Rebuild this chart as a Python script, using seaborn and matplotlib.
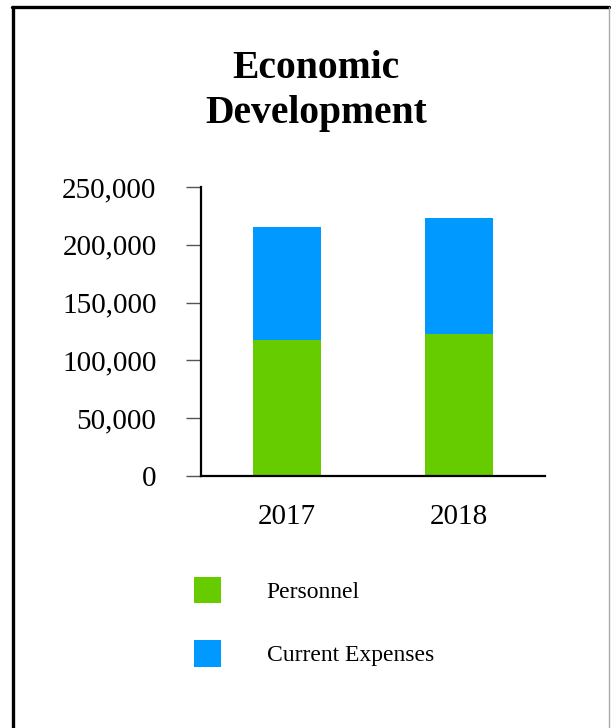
import matplotlib
matplotlib.use("Agg")
import matplotlib.pyplot as plt
from matplotlib.lines import Line2D
from matplotlib.patches import Patch
import seaborn as sns
import pandas as pd

# Budget figures by year
years = ["2017", "2018"]
personnel = [118000, 123000]
current_expenses = [97000, 100500]
series_names = ["Personnel", "Current Expenses"]
series_colors = ["#66CC00", "#0099FF"]
y_ticks = [0, 50000, 100000, 150000, 200000, 250000]

sns.set_theme(style="white")
plt.rcParams["font.family"] = ["Liberation Serif", "DejaVu Serif"]
plt.rcParams["text.color"] = "black"
plt.rcParams["xtick.color"] = "black"
plt.rcParams["ytick.color"] = "black"

df = pd.DataFrame({
    "year": years,
    "Personnel": personnel,
    "Current Expenses": current_expenses,
})
df["total"] = df["Personnel"] + df["Current Expenses"]

W, H = 611, 728
fig = plt.figure(figsize=(W / 100, H / 100), dpi=100)
fig.patch.set_facecolor("white")

ax = fig.add_axes([201 / W, (H - 476) / H, (545 - 201) / W, (476 - 187) / H])

# stacked bars: full stack in blue, personnel in green on top of it
sns.barplot(data=df, x="year", y="total", color=series_colors[1],
            width=0.4, saturation=1, ax=ax, order=years)
sns.barplot(data=df, x="year", y="Personnel", color=series_colors[0],
            width=0.4, saturation=1, ax=ax, order=years)
for p in ax.patches:
    p.set_edgecolor("none")

ax.set_xlim(-0.5, 1.5)
ax.set_ylim(0, 250000)
ax.set_yticks(y_ticks)
ax.set_yticklabels([f"{v:,}" for v in y_ticks])
ax.set_xlabel("")
ax.set_ylabel("")

for side in ["top", "right"]:
    ax.spines[side].set_visible(False)
for side in ["left", "bottom"]:
    ax.spines[side].set_color("black")
    ax.spines[side].set_linewidth(1.6)

ax.tick_params(axis="y", length=11, width=1, color="#555555",
               pad=21, labelsize=21, left=True, labelcolor="black")
ax.tick_params(axis="x", length=0, pad=20, labelsize=21, labelcolor="black")

fig.text(316 / W, 1 - 91 / H, "Economic\nDevelopment", ha="center",
         va="center", fontsize=28.5, fontweight="bold", linespacing=1.3,
         color="black")

handles = [Patch(facecolor=c, edgecolor="none") for c in series_colors]
fig.legend(handles, series_names, loc="upper left",
           bbox_to_anchor=(177 / W, 1 - 560 / H), frameon=False,
           fontsize=17, handlelength=1.15, handleheight=1.38,
           handletextpad=1.95, labelspacing=1.55, borderpad=0.2,
           labelcolor="black")

# page frame
fig.add_artist(Line2D([13 / W, 13 / W], [0, 1 - 7 / H], color="black",
                      lw=2.4, transform=fig.transFigure))
fig.add_artist(Line2D([12 / W, 609 / W], [1 - 7 / H, 1 - 7 / H],
                      color="black", lw=2.4, transform=fig.transFigure))
fig.add_artist(Line2D([609 / W, 609 / W], [0, 1 - 7 / H], color="#aaaaaa",
                      lw=1, transform=fig.transFigure))

fig.savefig("out.png", dpi=100, facecolor="white")
